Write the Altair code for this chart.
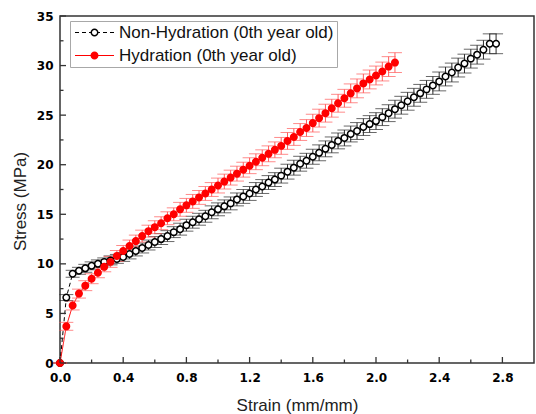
import altair as alt
import pandas as pd

SERIES = ["Non-Hydration (0th year old)", "Hydration (0th year old)"]
# separate keys for the marker legend so it is not merged with the line legend
SERIES_P = ["Non-Hydration (0th year old) ", "Hydration (0th year old) "]

NONHYD_STRAIN = [0.00, 0.04, 0.08, 0.12, 0.16, 0.20, 0.24, 0.28, 0.32, 0.36,
                 0.40, 0.44, 0.48, 0.52, 0.56, 0.60, 0.64, 0.68, 0.72, 0.76,
                 0.80, 0.84, 0.88, 0.92, 0.96, 1.00, 1.04, 1.08, 1.12, 1.16,
                 1.20, 1.24, 1.28, 1.32, 1.36, 1.40, 1.44, 1.48, 1.52, 1.56,
                 1.60, 1.64, 1.68, 1.72, 1.76, 1.80, 1.84, 1.88, 1.92, 1.96,
                 2.00, 2.04, 2.08, 2.12, 2.16, 2.20, 2.24, 2.28, 2.32, 2.36,
                 2.40, 2.44, 2.48, 2.52, 2.56, 2.60, 2.64, 2.68, 2.72, 2.76]
NONHYD_STRESS = [0.0, 6.6, 9.0, 9.3, 9.55, 9.8, 10.0, 10.2, 10.35, 10.5,
                 10.7, 11.0, 11.3, 11.6, 11.9, 12.2, 12.5, 12.8, 13.2, 13.5,
                 13.9, 14.2, 14.5, 14.8, 15.2, 15.5, 15.8, 16.1, 16.5, 16.8,
                 17.1, 17.5, 17.8, 18.2, 18.5, 18.9, 19.3, 19.7, 20.1, 20.4,
                 20.8, 21.2, 21.6, 22.0, 22.4, 22.7, 23.1, 23.4, 23.8, 24.1,
                 24.4, 24.8, 25.2, 25.6, 26.0, 26.4, 26.8, 27.2, 27.6, 28.0,
                 28.4, 28.9, 29.3, 29.8, 30.2, 30.7, 31.1, 31.6, 32.2, 32.2]
NONHYD_ERR = [0.0, 0.3, 0.35, 0.35, 0.4, 0.4, 0.4, 0.4, 0.45, 0.45,
              0.45, 0.5, 0.5, 0.5, 0.5, 0.55, 0.55, 0.55, 0.55, 0.6,
              0.6, 0.6, 0.6, 0.6, 0.65, 0.65, 0.65, 0.65, 0.65, 0.7,
              0.7, 0.7, 0.7, 0.7, 0.7, 0.75, 0.75, 0.75, 0.75, 0.75,
              0.75, 0.8, 0.8, 0.8, 0.8, 0.8, 0.8, 0.85, 0.85, 0.85,
              0.85, 0.85, 0.85, 0.9, 0.9, 0.9, 0.9, 0.9, 0.9, 0.9,
              0.95, 0.95, 0.95, 0.95, 0.95, 0.95, 0.95, 0.95, 1.0, 1.0]

HYD_STRAIN = [0.00, 0.04, 0.08, 0.12, 0.16, 0.20, 0.24, 0.28, 0.32, 0.36,
              0.40, 0.44, 0.48, 0.52, 0.56, 0.60, 0.64, 0.68, 0.72, 0.76,
              0.80, 0.84, 0.88, 0.92, 0.96, 1.00, 1.04, 1.08, 1.12, 1.16,
              1.20, 1.24, 1.28, 1.32, 1.36, 1.40, 1.44, 1.48, 1.52, 1.56,
              1.60, 1.64, 1.68, 1.72, 1.76, 1.80, 1.84, 1.88, 1.92, 1.96,
              2.00, 2.04, 2.08, 2.12]
HYD_STRESS = [0.0, 3.7, 5.8, 7.0, 7.8, 8.5, 9.1, 9.7, 10.2, 10.8,
              11.3, 11.8, 12.3, 12.8, 13.3, 13.7, 14.1, 14.6, 15.0, 15.5,
              15.9, 16.3, 16.7, 17.1, 17.5, 17.9, 18.3, 18.7, 19.1, 19.5,
              19.9, 20.3, 20.7, 21.1, 21.5, 21.9, 22.4, 22.8, 23.3, 23.7,
              24.2, 24.7, 25.2, 25.7, 26.2, 26.7, 27.2, 27.7, 28.2, 28.6,
              29.0, 29.4, 29.9, 30.3]
HYD_ERR = [0.0, 0.4, 0.45, 0.45, 0.5, 0.5, 0.5, 0.5, 0.55, 0.55,
           0.55, 0.6, 0.6, 0.6, 0.6, 0.65, 0.65, 0.65, 0.65, 0.7,
           0.7, 0.7, 0.7, 0.7, 0.7, 0.75, 0.75, 0.75, 0.75, 0.75,
           0.8, 0.8, 0.8, 0.8, 0.8, 0.85, 0.85, 0.85, 0.85, 0.85,
           0.9, 0.9, 0.9, 0.9, 0.9, 0.9, 0.95, 0.95, 0.95, 0.95,
           0.95, 0.95, 1.0, 1.0]

X_MAJOR = [0.0, 0.4, 0.8, 1.2, 1.6, 2.0, 2.4, 2.8]
X_MINOR = [0.2, 0.6, 1.0, 1.4, 1.8, 2.2, 2.6]
Y_MAJOR = [0, 5, 10, 15, 20, 25, 30, 35]
Y_MINOR = [2.5, 7.5, 12.5, 17.5, 22.5, 27.5, 32.5]

W, H = 474, 347


def frame(strain, stress, err, name, name_p):
    return pd.DataFrame({
        "strain": strain, "stress": stress,
        "lo": [s - e for s, e in zip(stress, err)],
        "hi": [s + e for s, e in zip(stress, err)],
        "series": name, "series_p": name_p,
    })


df = pd.concat([frame(NONHYD_STRAIN, NONHYD_STRESS, NONHYD_ERR, SERIES[0], SERIES_P[0]),
                frame(HYD_STRAIN, HYD_STRESS, HYD_ERR, SERIES[1], SERIES_P[1])],
               ignore_index=True)

xs = alt.Scale(domain=[0, 3.0], nice=False, zero=False)
ys = alt.Scale(domain=[0, 35], nice=False, zero=False)

AXIS_DARK = "#333333"
LABEL_FONT = "DejaVu Sans"
TEXT_FONT = "Liberation Sans"

x_axis = alt.Axis(values=X_MAJOR, format=".1f", ticks=False, tickSize=0, domain=False, grid=False,
                  labelFont=LABEL_FONT, labelFontWeight="bold", labelFontSize=12, labelColor="black",
                  labelPadding=9, labelFlush=False,
                  title="Strain (mm/mm)", titleFont=TEXT_FONT, titleFontSize=17, titleFontWeight="normal",
                  titleColor="#222222", titleY=47, titleBaseline="alphabetic")
y_axis = alt.Axis(values=Y_MAJOR, format="d", ticks=False, tickSize=0, domain=False, grid=False,
                  labelFont=LABEL_FONT, labelFontWeight="bold", labelFontSize=12, labelColor="black",
                  labelPadding=7, labelFlush=False,
                  title="Stress (MPa)", titleFont=TEXT_FONT, titleFontSize=17, titleFontWeight="normal",
                  titleColor="#222222", titleX=-40, titleY=185, titleBaseline="middle")

LEG_X, LEG_Y, LEG_PAD, LEG_FS = 10, 5, 3, 17
# Vega legend entry size = max(ceil(sqrt(size)+strokeWidth), fontSize) = 17 -> symbol centre at 8.5 px.
# line symbol (unit 3 px): from -6.5 px to +32.5 px around that centre -> 39 px long, midpoint +13 px.
leg_a = alt.Legend(title=None, orient="none", legendX=LEG_X, legendY=LEG_Y,
                   symbolType="M-2.1667,0H10.8333", symbolSize=36, symbolStrokeWidth=1.2,
                   symbolFillColor="transparent",
                   symbolDash=alt.ExprRef(expr="datum.value == '" + SERIES[0] + "' ? [4, 3] : [1, 0]"),
                   labelFont=TEXT_FONT, labelFontSize=LEG_FS, labelColor="#111111", labelOffset=29,
                   padding=LEG_PAD, rowPadding=5, strokeColor="#a8a8a8", labelLimit=400)
leg_b = alt.Legend(title=None, orient="none", legendX=LEG_X + 13, legendY=LEG_Y,
                   symbolType="circle", symbolSize=42, symbolStrokeWidth=1.5,
                   labelFont=TEXT_FONT, labelFontSize=LEG_FS, labelExpr="''", labelOffset=0,
                   padding=LEG_PAD, rowPadding=5)

base = alt.Chart(df)

X = lambda f: alt.X(f, scale=xs, axis=x_axis)
Y = lambda f: alt.Y(f, scale=ys, axis=y_axis)


def errbars(name, color):
    sub = base.transform_filter(alt.datum.series == name)
    rule = sub.mark_rule(color=color, strokeWidth=1).encode(
        x=X("strain:Q"), y=Y("lo:Q"), y2="hi:Q")
    cap_hi = sub.mark_tick(orient="horizontal", color=color, size=14, thickness=1).encode(
        x=X("strain:Q"), y=Y("hi:Q"))
    cap_lo = sub.mark_tick(orient="horizontal", color=color, size=14, thickness=1).encode(
        x=X("strain:Q"), y=Y("lo:Q"))
    return [rule, cap_hi, cap_lo]


lines = base.mark_line(strokeWidth=1).encode(
    x=X("strain:Q"), y=Y("stress:Q"),
    color=alt.Color("series:N", scale=alt.Scale(domain=SERIES, range=["#000000", "#ff0000"]), legend=leg_a),
    strokeDash=alt.StrokeDash("series:N", scale=alt.Scale(domain=SERIES, range=[[4, 3], [1, 0]]), legend=None),
)

points = base.mark_point(shape="circle", size=42, strokeWidth=1.5, opacity=1, fillOpacity=1).encode(
    x=X("strain:Q"), y=Y("stress:Q"),
    fill=alt.Fill("series_p:N", scale=alt.Scale(domain=SERIES_P, range=["#ffffff", "#ff0000"]), legend=leg_b),
    stroke=alt.Stroke("series_p:N", scale=alt.Scale(domain=SERIES_P, range=["#000000", "#ff0000"]), legend=leg_b),
)

xt_major = alt.Chart(pd.DataFrame({"v": X_MAJOR})).mark_rule(color=AXIS_DARK, strokeWidth=1.3).encode(
    x=X("v:Q"), y=alt.value(H), y2=alt.value(H - 6))
xt_minor = alt.Chart(pd.DataFrame({"v": X_MINOR})).mark_rule(color=AXIS_DARK, strokeWidth=1.3).encode(
    x=X("v:Q"), y=alt.value(H), y2=alt.value(H - 3.5))
yt_major = alt.Chart(pd.DataFrame({"v": Y_MAJOR})).mark_rule(color=AXIS_DARK, strokeWidth=1.3).encode(
    y=Y("v:Q"), x=alt.value(0), x2=alt.value(6))
yt_minor = alt.Chart(pd.DataFrame({"v": Y_MINOR})).mark_rule(color=AXIS_DARK, strokeWidth=1.3).encode(
    y=Y("v:Q"), x=alt.value(0), x2=alt.value(3.5))

chart = alt.layer(
    lines,
    *errbars(SERIES[0], "#2a2a2a"),
    *errbars(SERIES[1], "#ff5a5a"),
    points,
    xt_major, xt_minor, yt_major, yt_minor,
).properties(
    width=W, height=H, autosize="none",
    padding={"left": 60, "top": 16, "right": 2, "bottom": 51},
    background="white",
).configure_view(stroke=AXIS_DARK, strokeWidth=1.5)

chart.save("out.html", embed_options={"renderer": "svg", "actions": False})
